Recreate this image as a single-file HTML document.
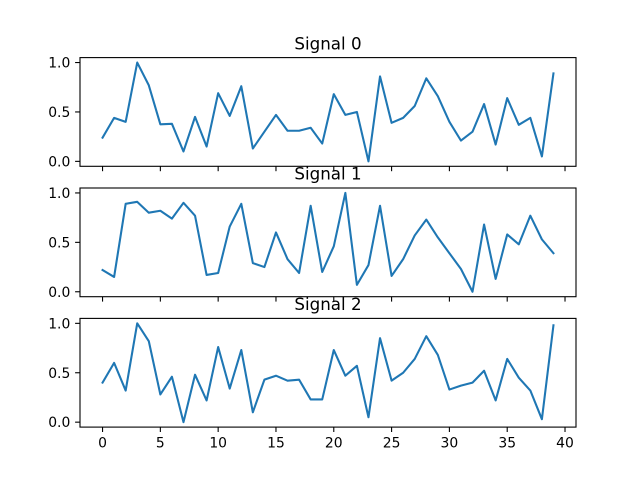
<!DOCTYPE html>
<html><head><meta charset="utf-8"><style>
html,body{margin:0;padding:0;background:#fff;}
svg{display:block;font-family:"DejaVu Sans","Liberation Sans",sans-serif;}
</style></head><body>
<svg id="fig" width="640" height="480" viewBox="0 0 640 480" xmlns="http://www.w3.org/2000/svg">
<rect width="640" height="480" fill="#fff"/>
</svg>
<script>
const titles = ["Signal 0", "Signal 1", "Signal 2"];
const signal0 = [0.24,0.44,0.40,1.0,0.77,0.375,0.38,0.10,0.45,0.15,0.69,0.46,0.76,0.13,0.30,0.47,0.31,0.31,0.34,0.18,0.68,0.47,0.50,0.0,0.86,0.39,0.44,0.56,0.84,0.66,0.40,0.21,0.30,0.58,0.17,0.64,0.37,0.44,0.05,0.89];
const signal1 = [0.22,0.15,0.89,0.91,0.80,0.82,0.74,0.90,0.77,0.17,0.19,0.66,0.89,0.29,0.25,0.60,0.33,0.19,0.87,0.20,0.46,1.0,0.07,0.27,0.87,0.16,0.33,0.57,0.73,0.55,0.39,0.23,0.0,0.68,0.13,0.58,0.48,0.77,0.53,0.39];
const signal2 = [0.40,0.60,0.32,1.0,0.82,0.28,0.46,0.0,0.48,0.22,0.76,0.34,0.73,0.10,0.43,0.47,0.42,0.43,0.23,0.23,0.73,0.47,0.57,0.05,0.85,0.42,0.50,0.64,0.87,0.68,0.33,0.37,0.40,0.52,0.22,0.64,0.45,0.32,0.03,0.98];
const xTicks = [0,5,10,15,20,25,30,35,40];
const yTicks = [0.0,0.5,1.0];
const yTickLabels = ["0.0","0.5","1.0"];

const NS = "http://www.w3.org/2000/svg";
const svg = document.getElementById("fig");
const series = [signal0, signal1, signal2];
const L = 80, R = 576, H = 108.7, GAP = 21.7, TOP0 = 57.6;
function mk(tag, attrs, parent) {
  const e = document.createElementNS(NS, tag);
  for (const k in attrs) e.setAttribute(k, attrs[k]);
  (parent || svg).appendChild(e);
  return e;
}
const n = signal0.length;
const xmin = -0.05 * (n - 1), xmax = (n - 1) * 1.05;
function xs(v) { return L + (v - xmin) / (xmax - xmin) * (R - L); }

series.forEach((data, i) => {
  const top = TOP0 + i * (H + GAP), bot = top + H;
  const lo = Math.min(...data), hi = Math.max(...data), pad = (hi - lo) * 0.05;
  const y0 = lo - pad, y1 = hi + pad;
  const ys = v => bot - (v - y0) / (y1 - y0) * H;
  const g = mk("g", {});
  
  
  const pts = data.map((v, k) => xs(k).toFixed(2) + "," + ys(v).toFixed(2)).join(" ");
  const pl = mk("polyline", {points: pts, fill: "none", stroke: "#1f77b4", "stroke-width": 2.08, "stroke-linejoin": "round", "stroke-linecap": "square"}, g);
  
  
  const fr = mk("rect", {x: L, y: top, width: R - L, height: H, fill: "none", stroke: "#000", "stroke-width": 1.1}, g);
  
  
  yTicks.forEach((t, k) => {
    const y = ys(t);
    mk("line", {x1: L - 4.9, x2: L, y1: y, y2: y, stroke: "#000", "stroke-width": 1.1}, g);
    const tx = mk("text", {x: L - 9.7, y: y + 5, "text-anchor": "end", "font-size": 13.9, fill: "#000"}, g);
    tx.textContent = yTickLabels[k];
    
    
  });
  xTicks.forEach(t => {
    const x = xs(t);
    mk("line", {x1: x, x2: x, y1: bot, y2: bot + 4.9, stroke: "#000", "stroke-width": 1.1}, g);
    if (i === series.length - 1) {
      const tx = mk("text", {x: x, y: bot + 20.5, "text-anchor": "middle", "font-size": 13.9, fill: "#000"}, g);
      tx.textContent = String(t);
      
      
    }
  });
  const ti = mk("text", {x: (L + R) / 2, y: top - 8.3, "text-anchor": "middle", "font-size": 16.7, fill: "#000"}, g);
  ti.textContent = titles[i];
  
  
});
</script>
</body></html>
